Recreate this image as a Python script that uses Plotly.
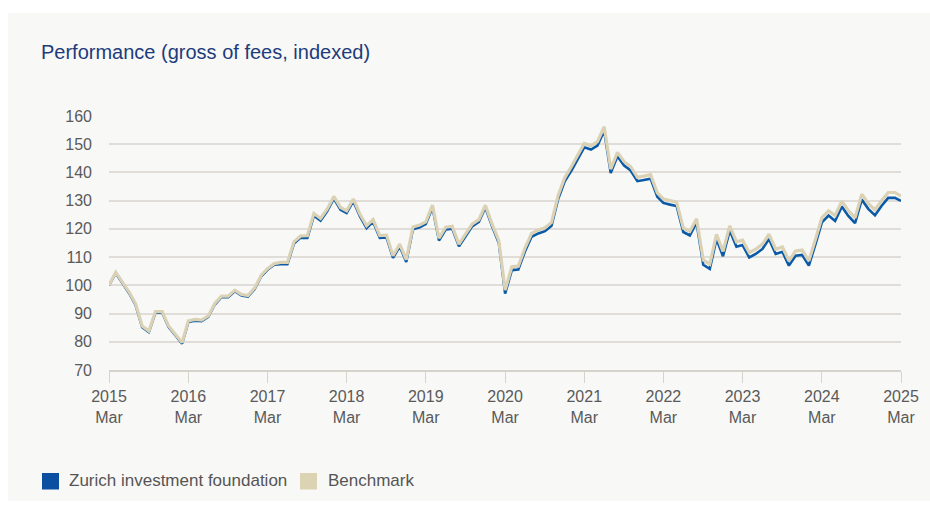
import plotly.graph_objects as go
import pandas as pd

# ---- data ----
months = pd.date_range("2015-03-01", periods=121, freq="MS")

fund = [
    100.0, 104.3, 100.9, 97.3, 93.2, 85.2, 83.4, 90.3, 90.4, 85.2,
    82.3, 79.3, 87.0, 87.5, 87.3, 88.8, 93.2, 95.8, 95.8, 97.9,
    96.4, 96.0, 98.7, 103.3, 105.5, 107.3, 107.5, 107.5, 114.8, 116.9,
    116.8, 124.7, 122.9, 126.2, 130.7, 126.8, 125.6, 129.8, 124.5, 120.3,
    122.5, 116.8, 117.0, 109.7, 113.8, 108.3, 119.9, 120.6, 121.7, 127.6,
    115.9, 119.8, 120.1, 113.8, 117.4, 120.9, 122.5, 127.6, 120.9, 115.0,
    97.1, 105.4, 105.6, 112.1, 117.2, 118.4, 119.2, 121.1, 130.7, 136.9,
    140.7, 144.8, 148.9, 148.1, 149.5, 154.8, 139.8, 145.7, 142.4, 140.7,
    136.9, 137.3, 137.8, 131.4, 129.2, 128.6, 128.1, 118.9, 117.7, 122.2,
    107.3, 105.8, 116.4, 110.3, 119.4, 113.7, 114.3, 109.9, 111.1, 112.9,
    116.4, 111.1, 111.9, 107.0, 110.5, 110.8, 107.0, 114.7, 122.3, 124.7,
    122.8, 127.9, 124.6, 122.0, 130.4, 127.1, 124.8, 128.1, 131.0, 131.0,
    129.9,
]

benchmark = [
    100.0, 104.7, 101.2, 97.7, 93.6, 85.6, 83.8, 90.7, 90.7, 85.6,
    82.7, 79.7, 87.4, 87.9, 87.7, 89.2, 93.6, 96.2, 96.2, 98.3,
    96.8, 96.4, 99.1, 103.7, 105.9, 107.7, 108.1, 108.1, 115.4, 117.5,
    117.6, 125.5, 123.7, 127.0, 131.5, 127.6, 126.4, 130.6, 125.3, 121.1,
    123.3, 117.6, 117.8, 110.5, 114.6, 109.1, 120.7, 121.4, 122.5, 128.4,
    116.7, 120.6, 120.9, 114.6, 118.2, 121.7, 123.3, 128.4, 121.7, 115.8,
    98.3, 106.6, 106.8, 113.3, 118.4, 119.6, 120.4, 122.3, 131.9, 138.1,
    142.1, 146.2, 150.3, 149.5, 150.9, 156.2, 141.2, 147.1, 143.8, 142.1,
    138.3, 138.7, 139.2, 132.8, 130.6, 130.0, 129.5, 120.3, 119.1, 123.6,
    109.0, 107.5, 118.1, 112.0, 121.1, 115.4, 116.0, 111.6, 112.8, 114.6,
    118.1, 112.8, 113.6, 108.7, 112.2, 112.5, 108.7, 116.4, 124.0, 126.4,
    124.7, 129.8, 126.5, 123.9, 132.3, 129.0, 126.7, 130.0, 132.9, 132.9,
    131.6,
]

tick_years = list(range(2015, 2026))
tick_vals = [f"{y}-03-01" for y in tick_years]
tick_text = [f"{y}<br>Mar" for y in tick_years]
y_ticks = [70, 80, 90, 100, 110, 120, 130, 140, 150, 160]

series_names = ["Zurich investment foundation", "Benchmark"]
series_colors = ["#0a5aa8", "#dbd2b6"]
legend_colors = ["#0a4fa0", "#dcd3b3"]

FONT = "Liberation Sans, Arial, sans-serif"
W, H = 930, 509
L, R, T, B = 109, 29, 116, 139

def px_x(p):
    return (p - L) / (W - L - R)

def px_y(p):
    return (H - B - p) / (H - T - B)

fig = go.Figure()
fig.add_trace(go.Scatter(x=months, y=fund, mode="lines", name=series_names[0],
                         line=dict(color=series_colors[0], width=2.6), showlegend=False))
fig.add_trace(go.Scatter(x=months, y=benchmark, mode="lines", name=series_names[1],
                         line=dict(color=series_colors[1], width=3.2), showlegend=False))

shapes = [
    dict(type="rect", xref="paper", yref="paper", x0=px_x(8), x1=px_x(931),
         y0=px_y(13), y1=px_y(501), fillcolor="#f8f8f7", line=dict(width=0), layer="below"),
]
annotations = [
    dict(text="Performance (gross of fees, indexed)", xref="paper", yref="paper",
         x=px_x(39), y=px_y(52), xanchor="left", yanchor="middle", showarrow=False,
         font=dict(family=FONT, size=20, color="#1d3c7c")),
]
# manual legend
leg_items = [(42, 67, 0), (300, 326, 1)]
for sx, tx, i in leg_items:
    shapes.append(dict(type="rect", xref="paper", yref="paper", x0=px_x(sx), x1=px_x(sx + 17),
                       y0=px_y(473), y1=px_y(489.5), fillcolor=legend_colors[i], line=dict(width=0)))
    annotations.append(dict(text=series_names[i], xref="paper", yref="paper", x=px_x(tx), y=px_y(480),
                            xanchor="left", yanchor="middle", showarrow=False,
                            font=dict(family=FONT, size=17, color="#555555")))

fig.update_layout(
    width=W, height=H,
    margin=dict(l=L, r=R, t=T, b=B, pad=0),
    paper_bgcolor="white", plot_bgcolor="rgba(0,0,0,0)",
    showlegend=False,
    shapes=shapes, annotations=annotations,
    xaxis=dict(type="date", range=["2015-03-01", "2025-03-01"], tickvals=tick_vals, ticktext=tick_text,
               showgrid=False, zeroline=False, showline=True, linecolor="#d6d3cd", linewidth=1.5,
               ticks="outside", ticklen=11, tickwidth=1, tickcolor="#d6d3cd",
               tickfont=dict(family=FONT, size=16, color="#5a5a5a")),
    yaxis=dict(range=[70, 160], tickvals=y_ticks, showgrid=True, gridcolor="#e0ddd8", gridwidth=1.5,
               zeroline=False, showline=False, ticks="", ticklabelstandoff=16,
               tickfont=dict(family=FONT, size=16, color="#5a5a5a")),
)

fig.write_html("out.html")
